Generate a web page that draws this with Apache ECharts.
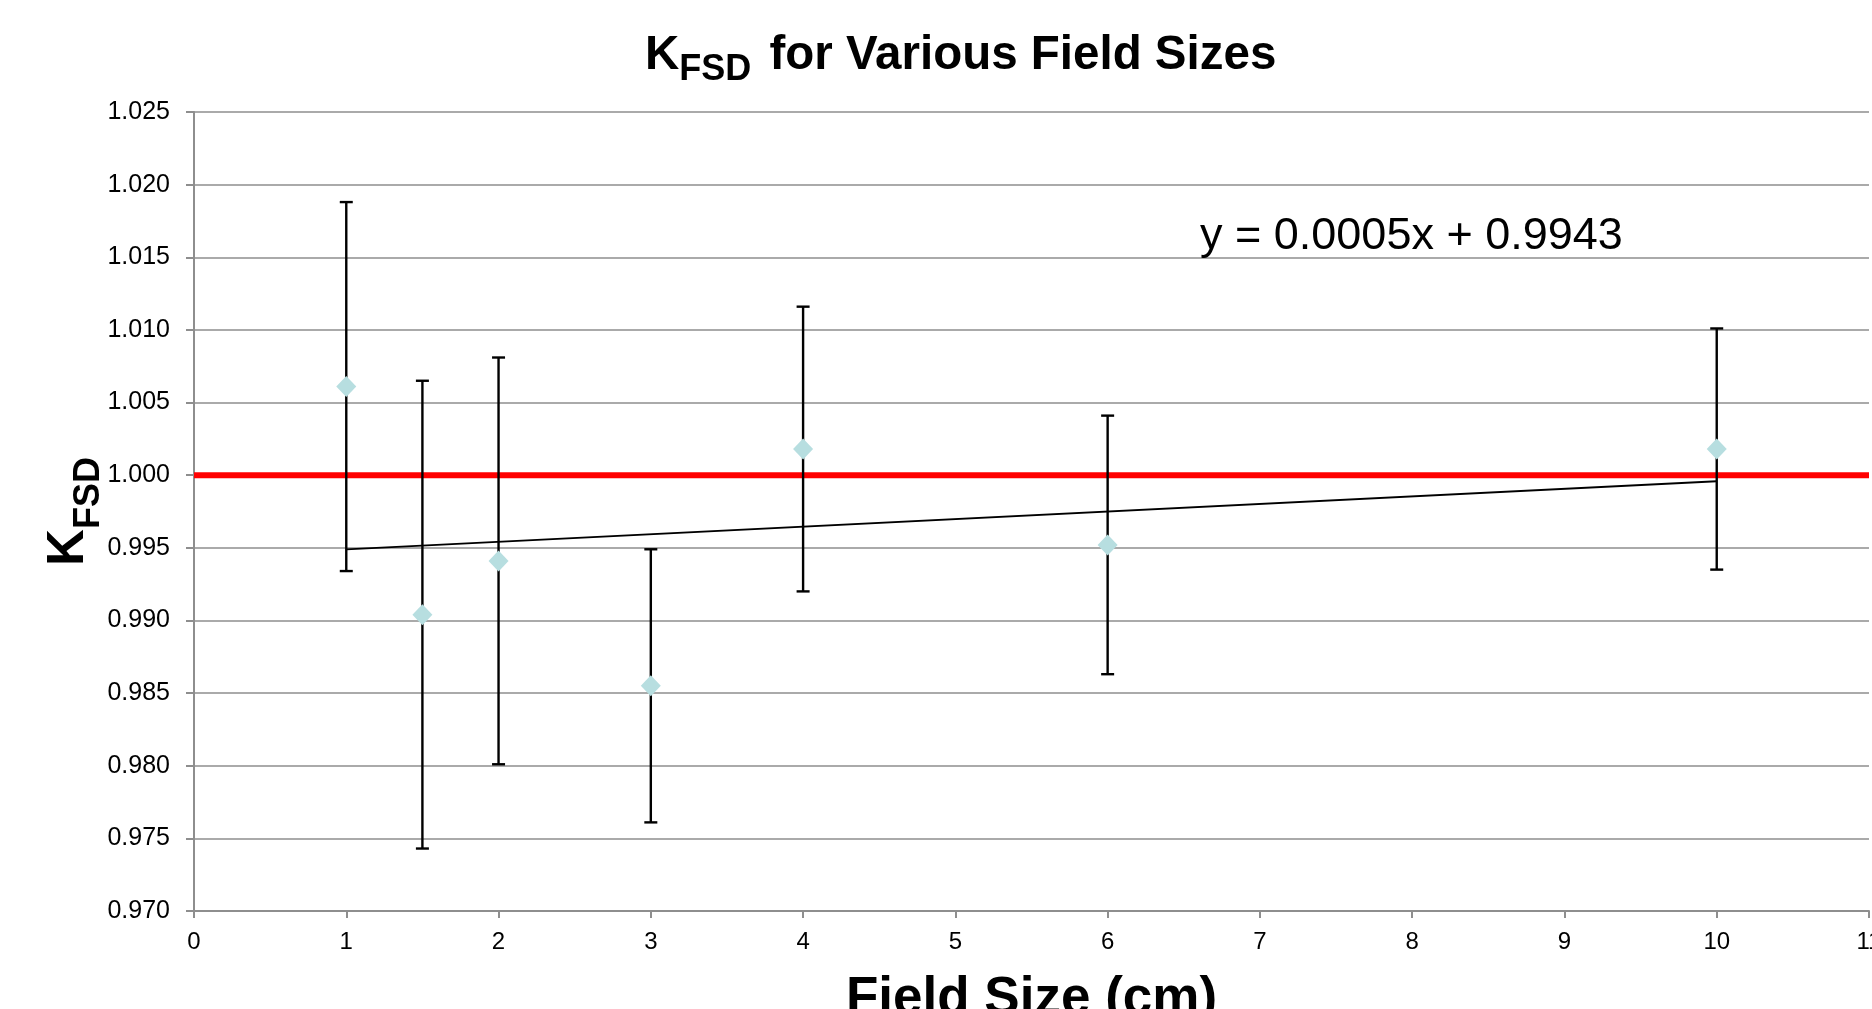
<!DOCTYPE html>
<html>
<head>
<meta charset="utf-8">
<script src="https://cdn.jsdelivr.net/npm/echarts@6/dist/echarts.min.js"></script>
<style>
html,body{margin:0;padding:0;background:#fff;}
#chart{width:1872px;height:1009px;}
</style>
</head>
<body>
<div id="chart"></div>
<script>
// ---- data ----
const fieldSizes = [1, 1.5, 2, 3, 4, 6, 10];
const kfsdValues = [1.0061, 0.9904, 0.9941, 0.9855, 1.0018, 0.9952, 1.0018];
const kfsdErrors = [0.0127, 0.0161, 0.0140, 0.0094, 0.0098, 0.0089, 0.0083];
const referenceValue = 1.000;
const xAxisRange = [0, 11];
const xTickStep = 1;
const yAxisRange = [0.970, 1.025];
const yTickStep = 0.005;
const trendEquationLabel = 'y = 0.0005x + 0.9943';

// ---- least-squares trend line computed from the data ----
const n = fieldSizes.length;
const mx = fieldSizes.reduce((a, b) => a + b, 0) / n;
const my = kfsdValues.reduce((a, b) => a + b, 0) / n;
let sxy = 0, sxx = 0;
for (let i = 0; i < n; i++) {
  sxy += (fieldSizes[i] - mx) * (kfsdValues[i] - my);
  sxx += (fieldSizes[i] - mx) * (fieldSizes[i] - mx);
}
const slope = sxy / sxx;
const intercept = my - slope * mx;
const xMinData = Math.min(...fieldSizes), xMaxData = Math.max(...fieldSizes);
const trendData = [[xMinData, intercept + slope * xMinData], [xMaxData, intercept + slope * xMaxData]];

const scatterData = fieldSizes.map((x, i) => [x, kfsdValues[i]]);
const errorData = fieldSizes.map((x, i) => [x, kfsdValues[i] - kfsdErrors[i], kfsdValues[i] + kfsdErrors[i]]);
const refData = [[xAxisRange[0], referenceValue], [xAxisRange[1], referenceValue]];

const FONT = "'Liberation Sans', Arial, Helvetica, sans-serif";
const GRID_COLOR = '#8e8e8e';

const chart = echarts.init(document.getElementById('chart'), null, {renderer: 'canvas'});

const option = {
  backgroundColor: '#ffffff',
  animation: false,
  title: {
    text: '{k|K}{s|FSD}{m| for Various Field Sizes}',
    left: 645,
    top: 27,
    padding: 0,
    textStyle: {
      rich: {
        k: {fontSize: 47.5, fontWeight: 'bold', fontFamily: FONT, color: '#000', lineHeight: 58},
        s: {fontSize: 36, fontWeight: 'bold', fontFamily: FONT, color: '#000', lineHeight: 36, padding: [28, 5, 0, 0]},
        m: {fontSize: 47.5, fontWeight: 'bold', fontFamily: FONT, color: '#000', lineHeight: 58}
      }
    }
  },
  grid: {
    left: 194, right: 3, top: 112, bottom: 98,
    containLabel: false,
    outerBoundsMode: 'none'
  },
  xAxis: {
    type: 'value',
    min: xAxisRange[0], max: xAxisRange[1], interval: xTickStep,
    name: 'Field Size (cm)',
    nameLocation: 'middle',
    nameGap: 62,
    nameMoveOverlap: false,
    nameTextStyle: {fontSize: 53, fontWeight: 'bold', fontFamily: FONT, color: '#000'},
    axisLine: {show: true, onZero: false, lineStyle: {color: GRID_COLOR, width: 2}},
    axisTick: {show: true, length: 7, lineStyle: {color: GRID_COLOR, width: 2}},
    axisLabel: {fontSize: 24, fontFamily: FONT, color: '#000', margin: 19, showMaxLabel: true, showMinLabel: true},
    splitLine: {show: false}
  },
  yAxis: {
    type: 'value',
    min: yAxisRange[0], max: yAxisRange[1], interval: yTickStep,
    name: '{k|K}{s|FSD}',
    nameLocation: 'middle',
    nameRotate: 90,
    nameGap: 97,
    nameMoveOverlap: false,
    nameTextStyle: {
      rich: {
        k: {fontSize: 51, fontWeight: 'bold', fontFamily: FONT, color: '#000', lineHeight: 56},
        s: {fontSize: 36, fontWeight: 'bold', fontFamily: FONT, color: '#000', lineHeight: 36, padding: [41, 0, 0, 0]}
      }
    },
    axisLine: {show: true, onZero: false, lineStyle: {color: GRID_COLOR, width: 2}},
    axisTick: {show: true, length: 8, lineStyle: {color: GRID_COLOR, width: 2}},
    axisLabel: {
      fontSize: 25, fontFamily: FONT, color: '#000', margin: 24,
      formatter: v => v.toFixed(3)
    },
    splitLine: {show: true, lineStyle: {color: GRID_COLOR, width: 1.5}}
  },
  series: [
    {
      name: 'Reference',
      type: 'line',
      data: refData,
      symbol: 'none',
      lineStyle: {color: '#ff0000', width: 6},
      silent: true,
      z: 2
    },
    {
      name: 'Trend',
      type: 'line',
      data: trendData,
      symbol: 'none',
      lineStyle: {color: '#000000', width: 1.8},
      silent: true,
      z: 3
    },
    {
      name: 'Error',
      type: 'custom',
      data: errorData,
      encode: {x: 0, y: [1, 2]},
      z: 4,
      renderItem: function (params, api) {
        const x = api.value(0);
        const lo = api.coord([x, api.value(1)]);
        const hi = api.coord([x, api.value(2)]);
        const hw = 6.5;
        const st = {stroke: '#000', lineWidth: 2.4};
        return {
          type: 'group',
          children: [
            {type: 'line', shape: {x1: hi[0], y1: hi[1], x2: lo[0], y2: lo[1]}, style: st},
            {type: 'line', shape: {x1: hi[0] - hw, y1: hi[1], x2: hi[0] + hw, y2: hi[1]}, style: st},
            {type: 'line', shape: {x1: lo[0] - hw, y1: lo[1], x2: lo[0] + hw, y2: lo[1]}, style: st}
          ]
        };
      }
    },
    {
      name: 'KFSD',
      type: 'scatter',
      data: scatterData,
      symbol: 'diamond',
      symbolSize: [20, 21],
      itemStyle: {color: '#b7dee0', opacity: 1},
      z: 5
    }
  ],
  graphic: [
    {
      type: 'text',
      left: 1200,
      top: 214,
      z: 10,
      style: {text: trendEquationLabel, fontSize: 45, fontFamily: FONT, fill: '#000'}
    }
  ]
};

chart.setOption(option);
</script>
</body>
</html>
